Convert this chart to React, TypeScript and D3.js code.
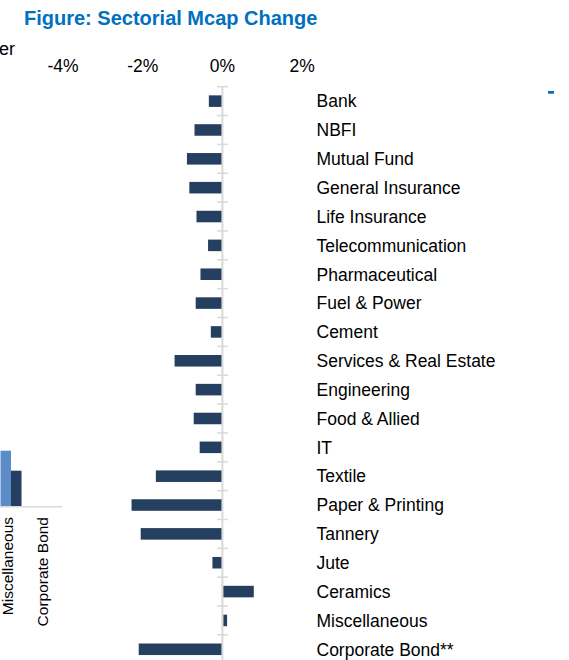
import React from 'react'
import * as d3 from 'd3'

// sectorial market cap change (%)
const sectors = [
  'Bank', 'NBFI', 'Mutual Fund', 'General Insurance', 'Life Insurance',
  'Telecommunication', 'Pharmaceutical', 'Fuel & Power', 'Cement',
  'Services & Real Estate', 'Engineering', 'Food & Allied', 'IT', 'Textile',
  'Paper & Printing', 'Tannery', 'Jute', 'Ceramics', 'Miscellaneous',
  'Corporate Bond**',
]
const mcapChange = [
  -0.34, -0.70, -0.89, -0.83, -0.65, -0.36, -0.55, -0.67, -0.29, -1.20,
  -0.67, -0.72, -0.57, -1.67, -2.28, -2.05, -0.25, 0.77, 0.10, -2.10,
]
const xTicks = [-4, -2, 0, 2]

// cut-off neighbouring chart on the left edge
const leftCats = ['Miscellaneous', 'Corporate Bond']
const leftPrev = [5.6, 0]
const leftCurr = [3.6, 0]

const FONT = '"Liberation Sans", Arial, sans-serif'
const NAVY = '#243F60'
const GRID = '#D9D9D9'
const BLUE = '#0070C0'

export default function App() {
  const x = d3.scaleLinear().domain([-4, 2]).range([63, 302.1])
  const y = d3.scaleBand<string>()
    .domain(sectors)
    .range([86.7, 86.7 + 28.85 * sectors.length])
    .paddingInner(0.6)
    .paddingOuter(0.3)
  const step = y.step()
  const rowTop = (i: number) => 86.7 + i * step
  const fmt = (v: number) => `${v}%`

  // left partial chart scales
  const lx = d3.scaleBand<string>().domain(leftCats).range([-10.5, 59.5])
  const ly = d3.scaleLinear().domain([0, 10]).range([506.7, 406.7])
  const lw = 10.5

  return (
    <svg width={569} height={660} style={{ position: 'absolute', left: 0, top: 0, background: '#fff' }}
      fontFamily={FONT}>
      <text x={24} y={25} fill={BLUE} fontWeight="bold" fontSize={20}>
        Figure: Sectorial Mcap Change
      </text>

      {/* remnants of adjacent chart */}
      <text x={15} y={55} fontSize={18} textAnchor="end" fill="#000">er</text>
      <rect x={548} y={91} width={6} height={2.7} fill={BLUE} />
      {leftCats.map((c, i) => {
        const cx = lx(c)! + lx.bandwidth() / 2
        const x0 = cx + 4 - lw
        return (
          <g key={c}>
            <rect x={x0} y={ly(leftPrev[i])} width={lw} height={ly(0) - ly(leftPrev[i])} fill="#5B8CC8" />
            <rect x={x0 + lw} y={ly(leftCurr[i])} width={lw} height={ly(0) - ly(leftCurr[i])} fill={NAVY} />
            <text transform={`translate(${cx + 6},517) rotate(-90)`}
              textAnchor="end" fontSize={15.5} fill="#000">{c}</text>
          </g>
        )
      })}
      <line x1={0} x2={62} y1={506.7} y2={506.7} stroke={GRID} strokeWidth={1.5} />

      {/* x tick labels */}
      {xTicks.map(t => (
        <text key={t} x={x(t)} y={71.7} fontSize={17.5} textAnchor="middle" fill="#000">{fmt(t)}</text>
      ))}

      {/* bars */}
      {sectors.map((s, i) => {
        const v = mcapChange[i]
        const x0 = v < 0 ? x(v) : x(0) + 0.7
        const w = Math.abs(x(v) - x(0))
        return <rect key={s} x={x0} y={y(s)} width={w} height={y.bandwidth()} fill={NAVY} />
      })}

      {/* vertical axis with row ticks */}
      <line x1={x(0)} x2={x(0)} y1={rowTop(0)} y2={660} stroke={GRID} strokeWidth={2} />
      {d3.range(sectors.length + 1).map(i => (
        <line key={i} x1={x(0) - 5.3} x2={x(0) + 5.3} y1={rowTop(i)} y2={rowTop(i)} stroke={GRID} strokeWidth={1.5} />
      ))}

      {/* category labels */}
      {sectors.map(s => (
        <text key={s} x={316.5} y={y(s)! + y.bandwidth() / 2} dy="0.36em" fontSize={17.5} fill="#000">{s}</text>
      ))}
    </svg>
  )
}
